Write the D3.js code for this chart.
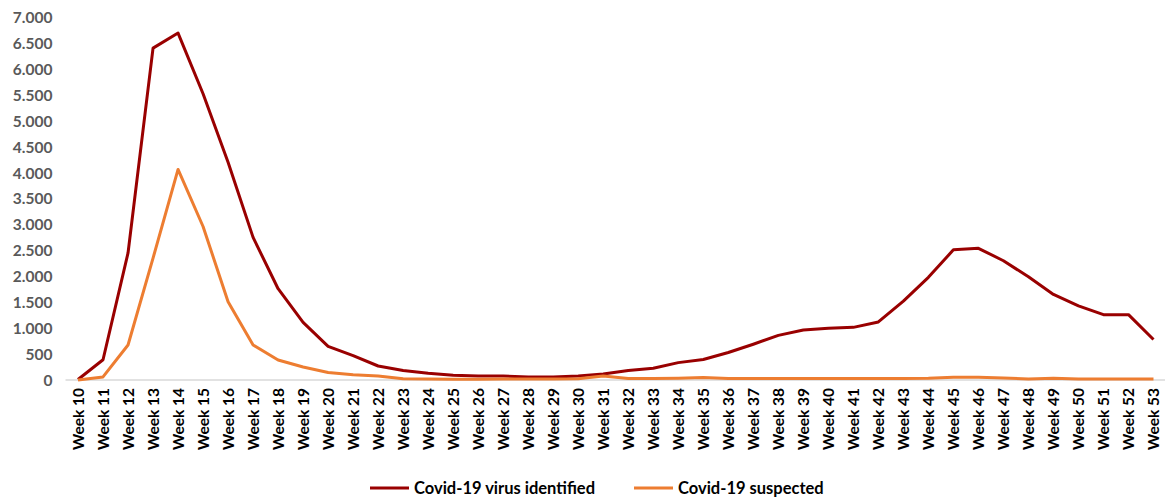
<!DOCTYPE html>
<html>
<head>
<meta charset="utf-8">
<script src="https://cdn.jsdelivr.net/npm/d3@7/dist/d3.min.js"></script>
<style>
  html, body { margin: 0; padding: 0; background: #ffffff; }
  svg { display: block; }
  text { font-family: Lato, "Open Sans", "Liberation Sans", sans-serif; }
</style>
</head>
<body>
<svg id="chart" width="1165" height="499"></svg>
<script>
// Weekly counts, weeks 10 to 53
const weeks = d3.range(10, 54).map(w => "Week " + w);
const identified = [10, 390, 2450, 6400, 6690, 5520, 4200, 2750, 1760, 1110,
                    650, 470, 270, 185, 130, 90, 75, 75, 60, 60,
                    75, 115, 185, 225, 335, 395, 530, 690, 860, 965,
                    1000, 1015, 1120, 1520, 1980, 2510, 2540, 2300, 1990, 1650,
                    1430, 1260, 1260, 780];
const suspected = [0, 60, 675, 2350, 4060, 2960, 1510, 675, 385, 250,
                   145, 100, 75, 25, 20, 15, 15, 20, 20, 20,
                   25, 75, 30, 30, 35, 50, 30, 30, 30, 30,
                   30, 30, 30, 30, 35, 55, 55, 40, 20, 35,
                   20, 20, 20, 20];
const yTicks = d3.range(0, 7001, 500);
const seriesNames = ["Covid-19 virus identified", "Covid-19 suspected"];
const seriesColors = ["#990000", "#ED7D31"];

const svg = d3.select("#chart");
const plot = { left: 65.5, right: 1166, top: 17, bottom: 380 };

const x = d3.scalePoint().domain(weeks).range([plot.left, plot.right]).padding(0.5);
const y = d3.scaleLinear().domain([0, 7000]).range([plot.bottom, plot.top]);

const fmt = d3.formatLocale({ decimal: ",", thousands: ".", grouping: [3], currency: ["", ""] }).format(",");

// Value axis: labels only
const yAxis = svg.append("g")
  .attr("transform", `translate(${plot.left - 13},0)`)
  .call(d3.axisLeft(y).tickValues(yTicks).tickFormat(fmt).tickSize(0).tickPadding(0));
yAxis.select(".domain").remove();
yAxis.selectAll("text")
  .attr("fill", "#595959")
  .attr("font-size", "15.5px")
  .attr("font-weight", "bold")
  .attr("dy", "0.35em");

// Category axis: baseline plus rotated week labels
const xAxis = svg.append("g")
  .attr("transform", `translate(0,${plot.bottom})`)
  .call(d3.axisBottom(x).tickSize(0).tickPadding(0));
xAxis.select(".domain")
  .attr("stroke", "#d9d9d9")
  .attr("stroke-width", 1.5)
  .attr("d", `M${plot.left},0H${plot.right}`);
xAxis.selectAll(".tick text")
  .attr("fill", "#000000")
  .attr("font-size", "15.5px")
  .attr("font-weight", "bold")
  .attr("text-anchor", "end")
  .attr("transform", "translate(0,8) rotate(-90)")
  .attr("x", 0)
  .attr("y", 0)
  .attr("dy", "0.35em");

// Series lines
const line = d3.line().x((d, i) => x(weeks[i])).y(d => y(d));
[identified, suspected].forEach((vals, k) => {
  svg.append("path")
    .datum(vals)
    .attr("fill", "none")
    .attr("stroke", seriesColors[k])
    .attr("stroke-width", 3)
    .attr("stroke-linejoin", "round")
    .attr("d", line);
});

// Legend
const legendX = [370, 634];
const legend = svg.append("g").attr("transform", "translate(0,488)");
seriesNames.forEach((name, k) => {
  legend.append("line")
    .attr("x1", legendX[k]).attr("x2", legendX[k] + 39)
    .attr("y1", 0).attr("y2", 0)
    .attr("stroke", seriesColors[k])
    .attr("stroke-width", 3);
  legend.append("text")
    .attr("x", legendX[k] + 44)
    .attr("y", 0)
    .attr("dy", "0.35em")
    .attr("fill", "#000000")
    .attr("font-size", "16.5px")
    .attr("font-weight", "bold")
    .text(name);
});
</script>
</body>
</html>
